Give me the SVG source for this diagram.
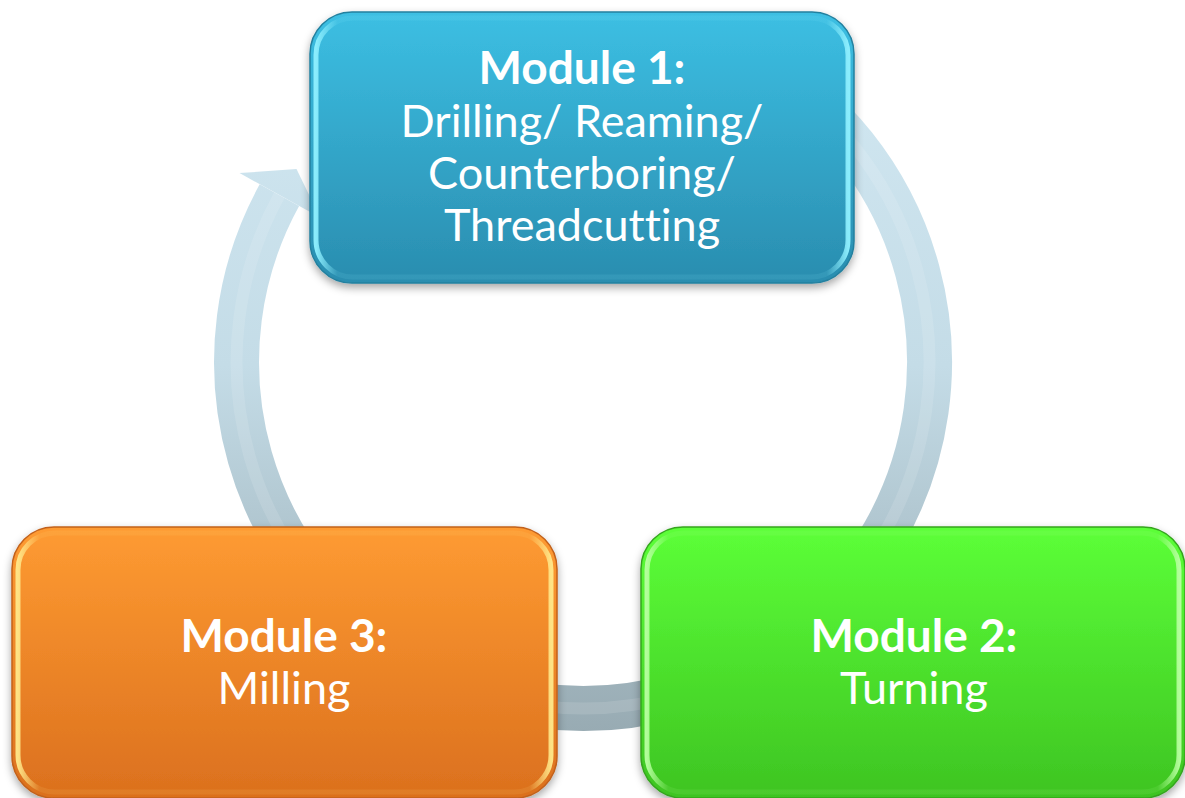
<svg xmlns="http://www.w3.org/2000/svg" width="1185" height="798" viewBox="0 0 1185 798">
<defs>
  <linearGradient id="ringGrad" gradientUnits="userSpaceOnUse" x1="0" y1="0" x2="0" y2="731">
    <stop offset="0" stop-color="#d3e9f3"/>
    <stop offset="0.5" stop-color="#c4dce7"/>
    <stop offset="1" stop-color="#98abb3"/>
  </linearGradient>
  <linearGradient id="blueFill" x1="0" y1="0" x2="0" y2="1">
    <stop offset="0" stop-color="#3cbfe3"/>
    <stop offset="1" stop-color="#2a8daf"/>
  </linearGradient>
  <linearGradient id="orangeFill" x1="0" y1="0" x2="0" y2="1">
    <stop offset="0" stop-color="#fe9b32"/>
    <stop offset="1" stop-color="#db701e"/>
  </linearGradient>
  <linearGradient id="greenFill" x1="0" y1="0" x2="0" y2="1">
    <stop offset="0" stop-color="#5cff38"/>
    <stop offset="1" stop-color="#3ec422"/>
  </linearGradient>
  <linearGradient id="blueBevel" x1="0" y1="0" x2="1" y2="0">
    <stop offset="0" stop-color="#8ff0ff" stop-opacity="0.95"/>
    <stop offset="0.04" stop-color="#8ff0ff" stop-opacity="0.1"/>
    <stop offset="0.96" stop-color="#8ff0ff" stop-opacity="0.1"/>
    <stop offset="1" stop-color="#8ff0ff" stop-opacity="0.95"/>
  </linearGradient>
  <linearGradient id="orangeBevel" x1="0" y1="0" x2="1" y2="0">
    <stop offset="0" stop-color="#ffe88a" stop-opacity="0.95"/>
    <stop offset="0.04" stop-color="#ffe88a" stop-opacity="0.1"/>
    <stop offset="0.96" stop-color="#ffe88a" stop-opacity="0.1"/>
    <stop offset="1" stop-color="#ffe88a" stop-opacity="0.95"/>
  </linearGradient>
  <linearGradient id="greenBevel" x1="0" y1="0" x2="1" y2="0">
    <stop offset="0" stop-color="#b8ffa0" stop-opacity="0.95"/>
    <stop offset="0.04" stop-color="#b8ffa0" stop-opacity="0.1"/>
    <stop offset="0.96" stop-color="#b8ffa0" stop-opacity="0.1"/>
    <stop offset="1" stop-color="#b8ffa0" stop-opacity="0.95"/>
  </linearGradient>
  <filter id="shadow" x="-10%" y="-10%" width="120%" height="125%">
    <feDropShadow dx="0" dy="4" stdDeviation="4" flood-color="#000" flood-opacity="0.35"/>
  </filter>
</defs>
<style>
  text { font-variant-ligatures: none; font-feature-settings: "liga" 0, "clig" 0; }
  .ttl { font-family: Lato, "Open Sans", "Liberation Sans", sans-serif; font-weight: bold; font-size: 46px; fill: #ffffff; text-anchor: middle; }
  .sub { font-family: Lato, "Open Sans", "Liberation Sans", sans-serif; font-weight: normal; font-size: 45px; fill: #ffffff; text-anchor: middle; }
  .bevel { fill: none; stroke-width: 5; }
</style>

<g id="connectors">
  <path d="M 756.25 61.93 A 346.5 346.5 0 1 1 279.4 195.1" fill="none" stroke="url(#ringGrad)" stroke-width="45"/>
  <path d="M 756.25 61.93 A 346.5 346.5 0 1 1 279.4 195.1" fill="none" stroke="#ffffff" stroke-opacity="0.12" stroke-width="12"/>
  <polygon points="239.5,173.1 296.5,169 320.1,217.5" fill="url(#ringGrad)"/>
</g>

<g id="module1">
  <rect x="310" y="12" width="544" height="271" rx="42" fill="url(#blueFill)" stroke="#23809f" stroke-width="1.5" filter="url(#shadow)"/>
  <rect x="316" y="18" width="532" height="259" rx="37" class="bevel" stroke="url(#blueBevel)"/>
  <text class="ttl" x="582" y="84">Module 1:</text>
  <text class="sub" x="582" y="137">Drilling/ Reaming/</text>
  <text class="sub" x="582" y="189">Counterboring/</text>
  <text class="sub" x="582" y="241">Threadcutting</text>
</g>

<g id="module2">
  <rect x="641" y="527" width="544" height="271" rx="42" fill="url(#greenFill)" stroke="#34a51e" stroke-width="1.5" filter="url(#shadow)"/>
  <rect x="647" y="533" width="532" height="259" rx="37" class="bevel" stroke="url(#greenBevel)"/>
  <text class="ttl" x="914" y="652">Module 2:</text>
  <text class="sub" x="914" y="704">Turning</text>
</g>

<g id="module3">
  <rect x="12" y="527" width="545" height="271" rx="42" fill="url(#orangeFill)" stroke="#c2611a" stroke-width="1.5" filter="url(#shadow)"/>
  <rect x="18" y="533" width="533" height="259" rx="37" class="bevel" stroke="url(#orangeBevel)"/>
  <text class="ttl" x="284" y="652">Module 3:</text>
  <text class="sub" x="284" y="704">Milling</text>
</g>
</svg>
